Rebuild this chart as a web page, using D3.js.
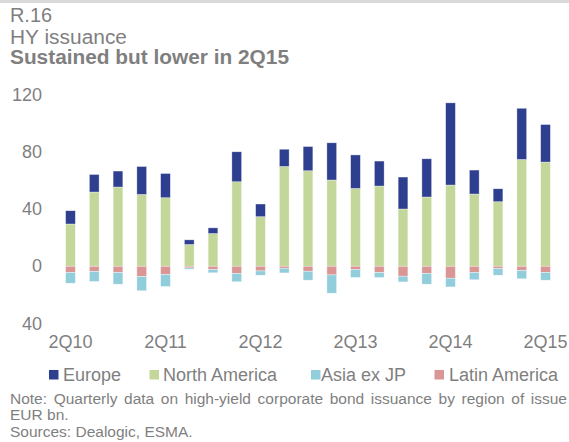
<!DOCTYPE html>
<html>
<head>
<meta charset="utf-8">
<script src="https://cdn.jsdelivr.net/npm/d3@7"></script>
<style>
  body { margin: 0; background: #fff; }
  svg { display: block; font-family: "Liberation Sans", Arial, sans-serif; }
</style>
</head>
<body>
<svg width="569" height="442"></svg>
<script>
// Data (EUR bn)
const quarters = ["2Q10","3Q10","4Q10","1Q11","2Q11","3Q11","4Q11","1Q12","2Q12","3Q12","4Q12",
                  "1Q13","2Q13","3Q13","4Q13","1Q14","2Q14","3Q14","4Q14","1Q15","2Q15"];
const tickLabels = ["2Q10","2Q11","2Q12","2Q13","2Q14","2Q15"];
const yTicks = [-40, 0, 40, 80, 120];

const europe       = [9.3, 12.3, 11.2, 19.6, 17, 3.3, 4, 21, 8.9, 12.1, 17, 26.1, 23.5, 17.5, 22.4, 26.8, 57.6, 16.8, 9.1, 35.9, 26.3];
const northAmerica = [29.6, 52, 55.5, 50.3, 48, 15.2, 22.9, 59.2, 34.7, 69.9, 66.9, 60.4, 54.5, 56.2, 40.1, 48.5, 56.9, 50.6, 45.2, 74.8, 73];
const asiaExJP     = [-7.5, -7, -8.2, -10, -8.4, -0.9, -2.3, -5.8, -3, -3.3, -6.3, -12.8, -5.6, -3.5, -4, -7.5, -6.1, -5.1, -4.7, -5.8, -5.4];
const latinAmerica = [-4.4, -3.7, -4.4, -7.2, -5.8, -1.2, -2.3, -5.1, -3.3, -1.4, -3.5, -6.1, -2.3, -4.4, -7, -5.1, -8.4, -4.4, -1.6, -3, -4.4];

const series = [
  {key: "Europe", values: europe, color: "#2e3f8f"},
  {key: "North America", values: northAmerica, color: "#c4d79b"},
  {key: "Asia ex JP", values: asiaExJP, color: "#92cddc"},
  {key: "Latin America", values: latinAmerica, color: "#da9694"}
];
// stacking order: NA then Europe upwards, Latin then Asia downwards
const stackOrder = ["North America", "Europe", "Latin America", "Asia ex JP"];

const grey = "#7f7f7f";
const svg = d3.select("svg");

const table = quarters.map((q, i) => {
  const row = {q: q};
  series.forEach(s => row[s.key] = s.values[i]);
  return row;
});

const stacked = d3.stack()
  .keys(stackOrder)
  .offset(d3.stackOffsetDiverging)(table);

const colorOf = k => series.find(s => s.key === k).color;

// top rule
svg.append("line")
  .attr("x1", 0).attr("x2", 569)
  .attr("y1", 1.5).attr("y2", 1.5)
  .attr("stroke", "#d9d9d9")
  .attr("stroke-width", 3);

// titles (fitted to the width measured on the original)
svg.append("text").attr("x", 10).attr("y", 22)
  .attr("font-size", "20px").attr("fill", grey)
  .attr("textLength", 42).attr("lengthAdjust", "spacingAndGlyphs")
  .text("R.16");
svg.append("text").attr("x", 10).attr("y", 43.5)
  .attr("font-size", "20px").attr("fill", grey)
  .attr("textLength", 117).attr("lengthAdjust", "spacingAndGlyphs")
  .text("HY issuance");
svg.append("text").attr("x", 10).attr("y", 64)
  .attr("font-size", "20px").attr("font-weight", "bold").attr("fill", grey)
  .attr("textLength", 279).attr("lengthAdjust", "spacingAndGlyphs")
  .text("Sustained but lower in 2Q15");

// scales
const x = d3.scaleBand()
  .domain(quarters)
  .range([58.6, 557.4])
  .paddingInner(0.59)
  .paddingOuter(0.295);

const y = d3.scaleLinear()
  .domain([-40, 120])
  .range([323.3, 95]);

// y axis
const yAxis = svg.append("g")
  .attr("transform", "translate(42, 0)")
  .call(d3.axisLeft(y).tickValues(yTicks).tickSize(0).tickPadding(0)
    .tickFormat(d => Math.abs(d)));
yAxis.select(".domain").remove();
yAxis.selectAll("text")
  .attr("font-size", "18px")
  .attr("font-family", "Liberation Sans, Arial, sans-serif")
  .attr("fill", grey);

// x axis
const xAxis = svg.append("g")
  .attr("transform", "translate(0, 334)")
  .call(d3.axisBottom(x).tickValues(tickLabels).tickSize(0).tickPadding(0));
xAxis.select(".domain").remove();
xAxis.selectAll("text")
  .attr("font-size", "18px")
  .attr("font-family", "Liberation Sans, Arial, sans-serif")
  .attr("fill", grey)
  .attr("dy", "0.75em");

// bars
svg.append("g")
  .selectAll("g")
  .data(stacked)
  .join("g")
  .attr("fill", d => colorOf(d.key))
  .selectAll("rect")
  .data(d => d)
  .join("rect")
  .attr("x", d => x(d.data.q))
  .attr("width", x.bandwidth())
  .attr("y", d => y(Math.max(d[0], d[1])))
  .attr("height", d => Math.abs(y(d[0]) - y(d[1])))
  .attr("stroke", "#ffffff")
  .attr("stroke-opacity", 0.6)
  .attr("stroke-width", 0.6);

// legend
const legendPos = [
  {key: "Europe", sx: 49, tx: 63},
  {key: "North America", sx: 149.5, tx: 163},
  {key: "Asia ex JP", sx: 311, tx: 321},
  {key: "Latin America", sx: 434.5, tx: 449}
];
const legend = svg.append("g");
legendPos.forEach(p => {
  legend.append("rect")
    .attr("x", p.sx).attr("y", 370)
    .attr("width", 9.5).attr("height", 9.5)
    .attr("fill", colorOf(p.key));
  legend.append("text")
    .attr("x", p.tx).attr("y", 381)
    .attr("font-size", "18px").attr("fill", grey)
    .text(p.key);
});

// notes (first line is justified and runs to the right edge in the original)
const note = svg.append("text")
  .attr("x", 10).attr("y", 404)
  .attr("font-size", "15.5px").attr("fill", grey)
  .text("Note: Quarterly data on high-yield corporate bond issuance by region of issue");
const nat = note.node().getComputedTextLength();
const spaces = note.text().split(" ").length - 1;
note.attr("word-spacing", (567 - 10 - nat) / spaces);

svg.append("text").attr("x", 10).attr("y", 420)
  .attr("font-size", "15.5px").attr("fill", grey).text("EUR bn.");
svg.append("text").attr("x", 10).attr("y", 437)
  .attr("font-size", "15.5px").attr("fill", grey).text("Sources: Dealogic, ESMA.");
</script>
</body>
</html>
